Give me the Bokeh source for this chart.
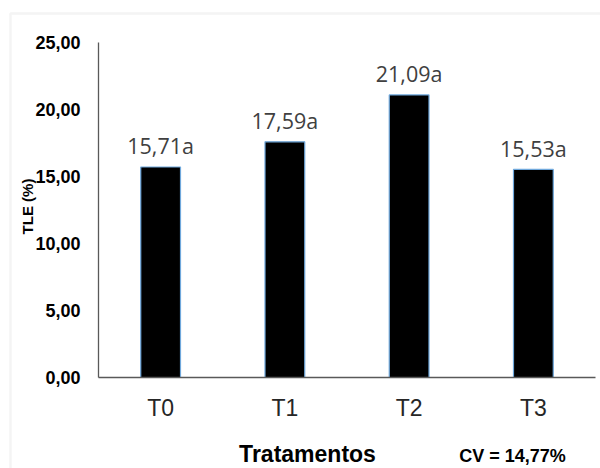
import math
from bokeh.plotting import figure
from bokeh.models import (ColumnDataSource, Range1d, FixedTicker, Label,
                          BoxAnnotation)
from bokeh.core.properties import value
from bokeh.embed import file_html
from bokeh.resources import INLINE

# Treatments and mean TLE (%) with Tukey grouping letters
treatments = ["T0", "T1", "T2", "T3"]
tle = [15.71, 17.59, 21.09, 15.53]
letters = ["a", "a", "a", "a"]

y_ticks = [0, 5, 10, 15, 20, 25]
y_tick_labels = ["0,00", "5,00", "10,00", "15,00", "20,00", "25,00"]

cv_text = "CV = 14,77%"
x_title = "Tratamentos"
y_title = "TLE (%)"

bar_labels = [f"{v:.2f}".replace(".", ",") + l for v, l in zip(tle, letters)]
positions = list(range(len(treatments)))

source = ColumnDataSource(data=dict(pos=positions, tle=tle, label=bar_labels))

# Canvas geometry (pixels): the frame fills the canvas, the axes sit at fixed
# locations so the light chart-area border can be drawn around everything.
W, H = 600, 468
AX_LEFT, AX_RIGHT = 98, 595      # x-axis line extent
AX_TOP, AX_BOTTOM = 42, 377      # y-axis line extent
Y_MAX = 25
n = len(treatments)

px_x = (AX_RIGHT - AX_LEFT) / n            # pixels per category slot
px_y = (AX_BOTTOM - AX_TOP) / Y_MAX        # pixels per percent
x_start = -0.5 - AX_LEFT / px_x
x_end = n - 0.5 + (W - AX_RIGHT) / px_x
y_start = -(H - AX_BOTTOM) / px_y
y_end = Y_MAX + AX_TOP / px_y

p = figure(
    width=W, height=H,
    x_range=Range1d(x_start, x_end),
    y_range=Range1d(y_start, y_end),
    output_backend="svg", toolbar_location=None,
    min_border=0,
)
p.outline_line_color = None
p.background_fill_color = "white"
p.border_fill_color = "white"
p.xgrid.grid_line_color = None
p.ygrid.grid_line_color = None

p.vbar(x="pos", top="tle", width=0.32, source=source,
       fill_color="black", line_color="#6fa8dc", line_width=1.2)

p.text(x="pos", y="tle", text="label", source=source,
       text_align="center", text_baseline="alphabetic", y_offset=-21,
       text_font=value("Open Sans"), text_font_size="21.5px",
       text_color="#404040")

# y axis
ya = p.yaxis[0]
ya.fixed_location = -0.5
ya.bounds = (0, Y_MAX)
ya.ticker = FixedTicker(ticks=y_ticks)
ya.major_label_overrides = {t: s for t, s in zip(y_ticks, y_tick_labels)}
ya.major_tick_out = 0
ya.major_tick_in = 0
ya.minor_tick_out = 0
ya.minor_tick_in = 0
ya.major_label_standoff = 18
ya.major_label_text_font = "Liberation Sans"
ya.major_label_text_font_style = "bold"
ya.major_label_text_font_size = "18px"
ya.major_label_text_color = "black"
ya.axis_line_color = "#595959"
ya.axis_line_width = 1.3

# x axis
xa = p.xaxis[0]
xa.fixed_location = 0
xa.bounds = (-0.5, n - 0.5)
xa.ticker = FixedTicker(ticks=positions)
xa.major_label_overrides = {i: t for i, t in zip(positions, treatments)}
xa.major_tick_out = 0
xa.major_tick_in = 0
xa.minor_tick_out = 0
xa.minor_tick_in = 0
xa.major_label_standoff = 17
xa.major_label_text_font = "Liberation Sans"
xa.major_label_text_font_size = "23px"
xa.major_label_text_color = "#262626"
xa.axis_line_color = "#595959"
xa.axis_line_width = 1.3

# axis titles and CV note (screen units measured from the frame's bottom-left)
p.add_layout(Label(x=27, y=H - 206, x_units="screen", y_units="screen",
                   text=y_title, angle=math.pi / 2,
                   text_align="center", text_baseline="middle",
                   text_font="Liberation Sans", text_font_style="bold",
                   text_font_size="15px", text_color="black"))
p.add_layout(Label(x=307, y=H - 453, x_units="screen", y_units="screen",
                   text=x_title, text_align="center", text_baseline="middle",
                   text_font="Liberation Sans", text_font_style="bold",
                   text_font_size="23px", text_color="black"))
p.add_layout(Label(x=512, y=H - 455, x_units="screen", y_units="screen",
                   text=cv_text, text_align="center", text_baseline="middle",
                   text_font="Liberation Sans", text_font_style="bold",
                   text_font_size="18px", text_color="black"))

# light chart-area border (left and top edges visible)
p.add_layout(BoxAnnotation(left=10, right=W + 50, top=H - 13, bottom=-50,
                           left_units="screen", right_units="screen",
                           top_units="screen", bottom_units="screen",
                           fill_color=None, line_color="#d9d9d9", line_width=2.5))

open("out.html", "w").write(file_html(p, INLINE))
